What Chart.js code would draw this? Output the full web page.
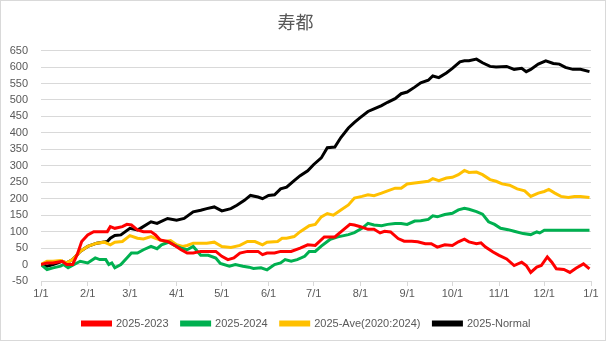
<!DOCTYPE html>
<html><head><meta charset="utf-8">
<script src="https://cdn.jsdelivr.net/npm/chart.js@4"></script>
<style>html,body{margin:0;padding:0;background:#fff}canvas{display:block}</style>
</head><body>
<canvas id="c" width="606" height="341"></canvas>
<script>
const chartTitle = '寿都';
const seriesNames = ['2025-2023', '2025-2024', '2025-Ave(2020:2024)', '2025-Normal'];
const monthDays = [0,31,59,90,120,151,181,212,243,273,304,334,365];
const monthLabels = ['1/1','2/1','3/1','4/1','5/1','6/1','7/1','8/1','9/1','10/1','11/1','12/1','1/1'];

const redDays = [0,4,8,14,17,21,24,27,31,35,39,44,46,49,54,57,60,64,68,73,76,79,84,88,93,97,101,106,110,116,120,124,128,132,137,144,147,150,155,159,166,172,177,182,188,195,199,205,208,212,217,221,225,228,232,237,241,246,250,255,259,263,268,273,277,281,284,289,292,295,300,304,309,314,319,322,325,329,332,336,339,342,347,351,355,360,364];
const redVals = [0,5,5,10,0,0,30,70,90,100,100,100,115,110,115,122,120,105,100,100,90,75,70,60,45,35,35,40,40,40,25,15,20,35,40,40,30,35,35,40,40,50,60,58,84,84,99,122,120,115,107,107,96,101,99,79,71,71,69,63,63,53,60,58,69,77,69,63,66,53,38,28,17,-3,7,-3,-24,-8,-3,23,7,-13,-15,-24,-11,2,-13];

const greenDays = [0,4,8,13,15,18,22,26,31,36,39,43,45,47,49,53,57,60,64,68,73,77,80,85,88,93,97,101,106,111,116,119,125,129,134,138,141,146,150,155,159,162,166,170,175,178,182,186,192,197,204,208,213,217,221,226,230,235,239,243,248,252,257,260,263,268,273,277,281,284,289,293,297,301,305,310,314,320,325,329,331,334,364];
const greenVals = [0,-15,-10,-5,0,-10,0,10,5,20,15,15,0,5,-10,0,20,35,35,45,55,48,60,68,60,50,45,55,28,28,20,3,-5,0,-5,-8,-12,-10,-16,0,5,15,10,15,25,40,40,56,77,84,91,97,110,125,120,118,122,125,125,122,132,133,137,148,145,152,156,166,171,168,161,153,130,122,110,106,101,94,91,99,96,104,104];

const yellowDays = [0,4,8,13,17,21,26,31,37,42,46,49,54,59,64,68,73,77,82,86,90,94,97,101,106,110,115,120,126,132,137,142,147,150,157,160,163,168,172,178,182,186,190,194,199,204,208,213,217,221,226,230,235,239,243,248,252,257,260,264,269,273,277,281,284,289,293,298,302,306,311,316,321,325,330,334,337,341,345,350,354,358,364];
const yellowVals = [0,10,10,12,5,15,40,55,65,68,60,68,70,88,80,78,85,78,70,73,60,55,58,65,65,65,68,55,52,58,70,70,60,68,70,80,80,85,100,118,122,145,155,150,166,181,202,207,212,209,217,224,232,232,245,248,250,253,261,255,263,265,273,286,280,281,273,258,253,245,241,230,224,207,217,222,228,217,207,204,207,207,204];

const blackDays = [0,4,8,14,17,21,26,31,37,44,46,49,53,59,64,66,73,77,84,90,95,101,106,110,115,120,126,130,135,139,144,147,151,155,159,163,168,172,177,181,186,190,195,199,204,208,212,217,221,226,230,235,239,243,248,252,257,260,264,269,273,278,281,284,289,293,298,302,309,314,319,322,325,330,335,340,344,348,353,358,364];
const blackVals = [0,-5,0,10,5,15,40,55,65,70,80,88,90,110,105,110,130,125,140,135,140,160,165,170,175,163,170,180,195,210,205,200,210,212,230,235,255,270,285,304,324,355,357,386,415,432,447,465,473,483,493,504,519,524,539,552,560,573,568,582,596,616,619,619,624,613,602,600,602,593,596,586,593,609,619,611,609,599,593,593,586];

const colors = ['#ff0000', '#00b050', '#ffc000', '#000000'];

function pts(days, vals){ return days.map((d,i)=>({x:d, y:vals[i]})); }
const allDays = [redDays, greenDays, yellowDays, blackDays];
const allVals = [redVals, greenVals, yellowVals, blackVals];

const borderPlugin = {
  id: 'outerBorder',
  afterLayout(chart){
    // center the legend on the whole canvas rather than on the padded area
    const lg = chart.legend;
    if (lg) { lg.left += 11; lg.right += 11; }
  },
  afterDraw(chart){
    const c = chart.ctx;
    c.save();
    c.strokeStyle = '#d9d9d9';
    c.lineWidth = 1;
    c.strokeRect(0.5, 0.5, chart.width-1, chart.height-1);
    c.restore();
  }
};

new Chart(document.getElementById('c'), {
  type: 'line',
  data: {
    datasets: seriesNames.map((n,i)=>({
      label: n,
      data: pts(allDays[i], allVals[i]),
      borderColor: colors[i],
      backgroundColor: colors[i],
      borderWidth: 3,
      pointRadius: 0,
      tension: 0,
      fill: false
    }))
  },
  options: {
    responsive: false,
    animation: false,
    events: [],
    layout: { padding: { left: 0, right: 15, top: 4, bottom: 2 } },
    plugins: {
      title: {
        display: true, text: chartTitle, color: '#595959',
        font: { family: '"Noto Sans CJK JP", "Noto Sans", sans-serif', size: 18, weight: 'normal', lineHeight: 1.2 },
        padding: { top: 7, bottom: 18 }
      },
      legend: {
        position: 'bottom',
        labels: {
          color: '#595959', boxWidth: 28, boxHeight: 3, padding: 13,
          font: { family: '"Liberation Sans", Arial, sans-serif', size: 11 }
        }
      },
      tooltip: { enabled: false }
    },
    scales: {
      x: {
        type: 'linear', min: 0, max: 365,
        afterBuildTicks(s){ s.ticks = monthDays.map(v=>({value:v})); },
        afterFit(s){ s.height = 24; },
        ticks: {
          autoSkip: false, maxRotation: 0, color: '#595959', padding: 1,
          font: { family: '"Liberation Sans", Arial, sans-serif', size: 11 },
          callback(v, i){ return monthLabels[i]; }
        },
        grid: { drawOnChartArea: false, drawTicks: true, tickLength: 5, color: '#d9d9d9' },
        border: { display: true, color: '#d9d9d9' }
      },
      y: {
        min: -50, max: 650,
        afterFit(s){ s.width = 41; },
        ticks: {
          stepSize: 50, color: '#595959', padding: 13,
          font: { family: '"Liberation Sans", Arial, sans-serif', size: 11 }
        },
        grid: { color: '#d9d9d9', drawTicks: false },
        border: { display: false }
      }
    }
  },
  plugins: [borderPlugin]
});
</script>
</body></html>
